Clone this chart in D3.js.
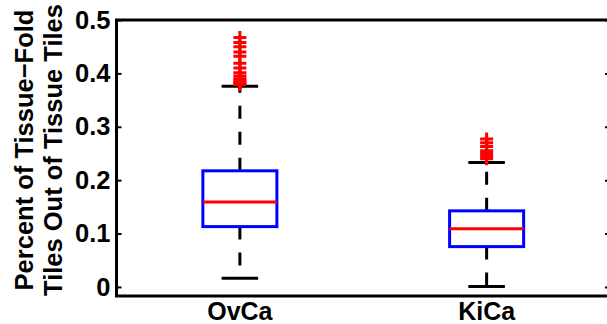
<!DOCTYPE html>
<html>
<head>
<meta charset="utf-8">
<script src="https://cdn.jsdelivr.net/npm/d3@7"></script>
<style>
  body { margin: 0; background: #fff; }
  svg { display: block; font-family: "Liberation Sans", Arial, sans-serif; font-weight: bold; }
</style>
</head>
<body>
<div id="chart"></div>
<script>
// Box statistics
const categories = ['OvCa', 'KiCa'];
const q1 = [0.113, 0.0755];
const medians = [0.159, 0.109];
const q3 = [0.2175, 0.1425];
const lowerWhisker = [0.0163, 0.0006];
const upperWhisker = [0.376, 0.233];
const outliers = [
    [0.467, 0.458, 0.450, 0.440, 0.432, 0.419, 0.410, 0.401, 0.395, 0.390, 0.386, 0.383, 0.381, 0.379],
    [0.277, 0.270, 0.263, 0.255, 0.250, 0.245, 0.240]
];
const yTicks = [0, 0.1, 0.2, 0.3, 0.4, 0.5];
const yLabelLines = ['Percent of Tissue\u2212Fold', 'Tiles Out of Tissue Tiles'];

const width = 607;
const height = 324;
const margin = { top: 20, right: -3, bottom: 28, left: 116.5 };

const svg = d3
    .select('#chart')
    .append('svg')
    .attr('width', width)
    .attr('height', height);

// Scales (MATLAB style: groups at 1..n, limits +/- 0.5)
const xScale = d3
    .scaleLinear()
    .domain([0.5, categories.length + 0.5])
    .range([margin.left, width - margin.right]);
const yScale = d3
    .scaleLinear()
    .domain([-0.017, 0.5])
    .range([height - margin.bottom, margin.top]);

const boxHalf = 0.15;
const capHalf = 0.074;

// Axes
const yAxisLeft = d3.axisLeft(yScale).tickValues(yTicks).tickSizeInner(-5).tickSizeOuter(0)
    .tickFormat((d) => (d === 0 ? '0' : d3.format('.1f')(d)));
const yAxisRight = d3.axisRight(yScale).tickValues(yTicks).tickSizeInner(-5).tickSizeOuter(0)
    .tickFormat('');

const gLeft = svg.append('g')
    .attr('transform', `translate(${margin.left},0)`)
    .call(yAxisLeft);
gLeft.select('.domain').remove();
gLeft.selectAll('line').attr('stroke', '#000').attr('stroke-width', 2);
gLeft.selectAll('text')
    .attr('x', -6)
    .attr('font-size', 25.5)
    .attr('font-weight', 'bold')
    .attr('fill', '#000')
    .attr('font-family', '"Liberation Sans", Arial, sans-serif');

const gRight = svg.append('g')
    .attr('transform', `translate(${width - margin.right},0)`)
    .call(yAxisRight);
gRight.select('.domain').remove();
gRight.selectAll('line').attr('stroke', '#000').attr('stroke-width', 2);

// Frame
const x0 = margin.left;
const x1 = width - margin.right;
const yTop = margin.top;
const yBot = height - margin.bottom;
svg.append('path')
    .attr('d', `M${x1},${yTop}H${x0}V${yBot}H${x1}`)
    .attr('fill', 'none')
    .attr('stroke', '#000')
    .attr('stroke-width', 3);

// Category labels
svg.selectAll('.cat')
    .data(categories)
    .join('text')
    .attr('class', 'cat')
    .attr('x', (d, i) => xScale(i + 1))
    .attr('y', 320)
    .attr('text-anchor', 'middle')
    .attr('font-size', 25)
    .text((d) => d);

// Y label
svg.append('text')
    .attr('transform', 'translate(33,150) rotate(-90)')
    .attr('text-anchor', 'middle')
    .attr('font-size', 25.5)
    .selectAll('tspan')
    .data(yLabelLines)
    .join('tspan')
    .attr('x', 0)
    .attr('dy', (d, i) => (i === 0 ? 0 : 29))
    .text((d) => d);

// Boxes
const groups = svg.selectAll('.box')
    .data(categories)
    .join('g')
    .attr('class', 'box');

groups.each(function (d, i) {
    const g = d3.select(this);
    const cx = i + 1;

    // whiskers, drawn outward from box
    g.append('line')
        .attr('x1', xScale(cx)).attr('x2', xScale(cx))
        .attr('y1', yScale(q3[i])).attr('y2', yScale(upperWhisker[i]))
        .attr('stroke', '#000').attr('stroke-width', 3)
        .attr('stroke-dasharray', '13,13');
    g.append('line')
        .attr('x1', xScale(cx)).attr('x2', xScale(cx))
        .attr('y1', yScale(q1[i])).attr('y2', yScale(lowerWhisker[i]))
        .attr('stroke', '#000').attr('stroke-width', 3)
        .attr('stroke-dasharray', '13,13');

    // caps
    [upperWhisker[i], lowerWhisker[i]].forEach((v) => {
        g.append('line')
            .attr('x1', xScale(cx - capHalf)).attr('x2', xScale(cx + capHalf))
            .attr('y1', yScale(v)).attr('y2', yScale(v))
            .attr('stroke', '#000').attr('stroke-width', 3);
    });

    // box
    g.append('rect')
        .attr('x', xScale(cx - boxHalf))
        .attr('y', yScale(q3[i]))
        .attr('width', xScale(cx + boxHalf) - xScale(cx - boxHalf))
        .attr('height', yScale(q1[i]) - yScale(q3[i]))
        .attr('fill', 'none')
        .attr('stroke', '#0000ff')
        .attr('stroke-width', 3);

    // median
    g.append('line')
        .attr('x1', xScale(cx - boxHalf)).attr('x2', xScale(cx + boxHalf))
        .attr('y1', yScale(medians[i])).attr('y2', yScale(medians[i]))
        .attr('stroke', '#ff0000').attr('stroke-width', 3);

    // outliers as '+' markers
    g.selectAll('.out')
        .data(outliers[i])
        .join('path')
        .attr('class', 'out')
        .attr('d', (v) => {
            const px = xScale(cx);
            const py = yScale(v);
            return `M${px - 6.5},${py}H${px + 6.5}M${px},${py - 6.5}V${py + 6.5}`;
        })
        .attr('stroke', '#ff0000')
        .attr('stroke-width', 3)
        .attr('fill', 'none');
});
</script>
</body>
</html>
